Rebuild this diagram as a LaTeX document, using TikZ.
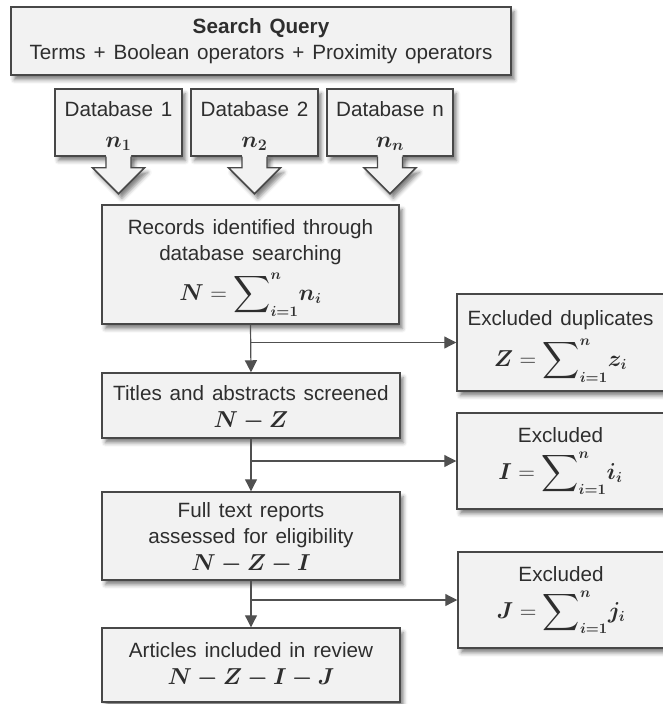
\documentclass[tikz,border=0pt]{standalone}
\usepackage[no-math]{fontspec}
\setmainfont{Liberation Sans}
\usepackage{amsmath,bm,graphicx}
\usetikzlibrary{arrows.meta,shadows.blur}

\definecolor{boxfill}{HTML}{F2F2F2}
\definecolor{boxline}{HTML}{484848}
\definecolor{linegray}{HTML}{505050}
\definecolor{textgray}{HTML}{2E2E2E}

% slightly wider word spacing for the box texts
\newcommand{\widesp}{\spaceskip=0.38em\relax}
% bold formula set a little larger than the running text
\newcommand{\mth}[1]{{\fontsize{17pt}{20pt}\selectfont$\bm{#1}$}}
% enlarged summation sign with side limits
\newcommand{\bigsum}{\mathop{\vcenter{\hbox{\scalebox{1.12}{$\displaystyle\sum$}}}}\nolimits}
% total of a quantity over the n databases
\newcommand{\totalof}[2]{{\fontsize{16pt}{20pt}\selectfont
  $\bm{#1} = \bigsum_{\bm{i=1}}^{\bm{n}}\!\bm{#2_i}$}}

\tikzset{
  softshadow/.style={blur shadow={shadow xshift=2.5pt, shadow yshift=-3.5pt,
      shadow blur radius=3pt, shadow opacity=50}},
  box/.style={draw=boxline, line width=1.1pt, fill=boxfill, rectangle,
      inner sep=0pt, align=center, text=textgray,
      font=\fontsize{15.5pt}{20pt}\selectfont\widesp, softshadow},
  flow/.style={draw=linegray, line width=0.9pt,
      -{Triangle[length=9pt,width=9pt]}},
  blockfill/.style={fill=boxfill, softshadow},
  blockline/.style={draw=boxline, line width=1.1pt, line join=miter},
}

\begin{document}
\begin{tikzpicture}[x=0.75pt, y=-0.75pt]
\useasboundingbox (0,0) rectangle (662,704);

% query and sources
\node[box, minimum width=500*0.75pt, minimum height=68*0.75pt] (query) at (261,41)
  {\textbf{Search Query}\\Terms + Boolean operators + Proximity operators};
\node[box, minimum width=127*0.75pt, minimum height=67*0.75pt] (db1) at (118.5,122.5)
  {\rule{0pt}{17pt}Database 1\\[3pt]\mth{n_1}};
\node[box, minimum width=127*0.75pt, minimum height=67*0.75pt] (db2) at (254.5,122.5)
  {\rule{0pt}{17pt}Database 2\\[3pt]\mth{n_2}};
\node[box, minimum width=126*0.75pt, minimum height=67*0.75pt] (dbn) at (390,122.5)
  {\rule{0pt}{17pt}Database n\\[3pt]\mth{n_n}};

% block arrows under each database
\foreach \d in {db1,db2,dbn}{
  \begin{scope}[shift={(\d.south)}]
    \fill[blockfill] (-12.5,-1.5) -- (-12.5,11) -- (-26,11) -- (0,37)
      -- (26,11) -- (12.5,11) -- (12.5,-1.5) -- cycle;
    \draw[blockline] (-12.5,0) -- (-12.5,11) -- (-26,11) -- (0,37)
      -- (26,11) -- (12.5,11) -- (12.5,0);
  \end{scope}
}

% main flow
\node[box, minimum width=297*0.75pt, minimum height=119*0.75pt] (rec) at (250.5,264.5)
  {\rule{0pt}{16pt}Records identified through\\database searching\\[5pt]\totalof{N}{n}};
\node[box, minimum width=298*0.75pt, minimum height=65*0.75pt] (tit) at (251,405.5)
  {\rule{0pt}{15pt}Titles and abstracts screened\\\mth{N-Z}};
\node[box, minimum width=298*0.75pt, minimum height=88*0.75pt] (full) at (251,536)
  {\rule{0pt}{14pt}Full text reports\\assessed for eligibility\\\mth{N-Z-I}};
\node[box, minimum width=298*0.75pt, minimum height=74*0.75pt] (art) at (251,665)
  {Articles included in review\\\mth{N-Z-I-J}};

% exclusions
\node[box, minimum width=207*0.75pt, minimum height=97*0.75pt] (exZ) at (560.5,342.5)
  {\rule{0pt}{17pt}Excluded duplicates\\[6pt]\totalof{Z}{z}\rule[-8pt]{0pt}{0pt}};
\node[box, minimum width=207*0.75pt, minimum height=96*0.75pt] (exI) at (560.5,461)
  {Excluded\\[6pt]\totalof{I}{i}\rule[-5pt]{0pt}{0pt}};
\node[box, minimum width=206*0.75pt, minimum height=96*0.75pt] (exJ) at (561,600)
  {Excluded\\[6pt]\totalof{J}{j}\rule[-5pt]{0pt}{0pt}};

% connectors
\draw[flow] (rec.south) -- (tit.north);
\draw[flow] (rec.south |- exZ.west) -- (exZ.west);
\draw[flow] (tit.south) -- (full.north);
\draw[flow] (tit.south |- exI.west) -- (exI.west);
\draw[flow] (full.south) -- (art.north);
\draw[flow] (full.south |- exJ.west) -- (exJ.west);
\end{tikzpicture}
\end{document}
